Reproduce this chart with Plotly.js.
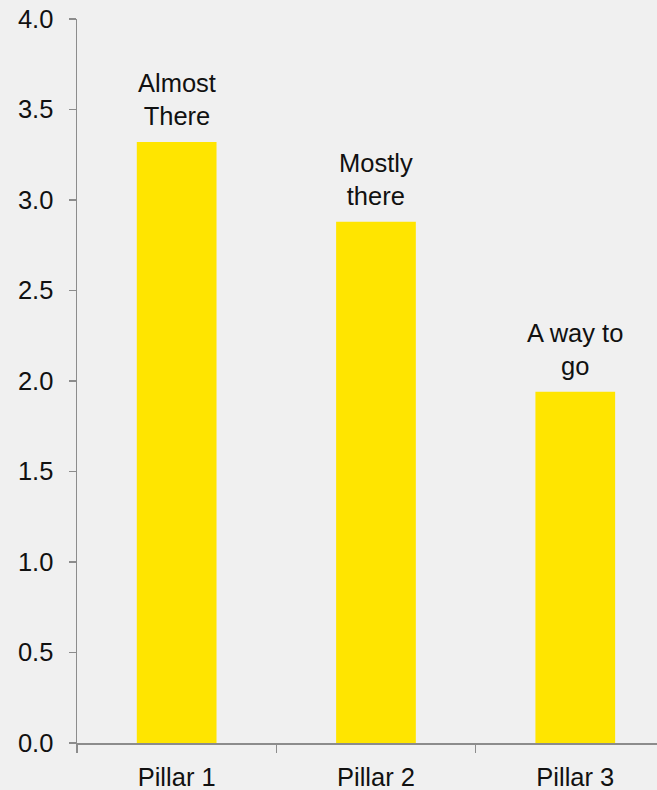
<!DOCTYPE html>
<html>
<head>
<meta charset="utf-8">
<script src="https://cdn.plot.ly/plotly-3.0.1.min.js"></script>
<style>
  html, body { margin: 0; padding: 0; background: #f0f0f0; overflow: hidden; }
  #chart { width: 657px; height: 790px; }
</style>
</head>
<body>
<div id="chart"></div>
<script>
// Pillar scores with a short status note above each bar
const pillars = ['Pillar 1', 'Pillar 2', 'Pillar 3'];
const scores = [3.32, 2.88, 1.94];
const notes = ['Almost<br>There', 'Mostly<br>there', 'A way to<br>go'];
const yTicks = [0, 0.5, 1, 1.5, 2, 2.5, 3, 3.5, 4];
const yTickLabels = ['0.0', '0.5', '1.0', '1.5', '2.0', '2.5', '3.0', '3.5', '4.0'];

const axisGray = '#8c8c8c';
const font = { family: '"Liberation Sans", Arial, sans-serif', size: 25.5, color: '#111111' };

const trace = {
  type: 'bar',
  x: pillars,
  y: scores,
  width: 0.4,
  marker: { color: '#ffe500' },
  hoverinfo: 'skip'
};

// Status notes sit just above the top of each bar
const noteAnnotations = pillars.map((p, i) => ({
  x: p,
  y: scores[i],
  xref: 'x',
  yref: 'y',
  text: notes[i],
  showarrow: false,
  xanchor: 'center',
  yanchor: 'bottom',
  yshift: 10,
  font: font
}));

const layout = {
  width: 657,
  height: 790,
  margin: { l: 77, r: 0, t: 19, b: 47 },
  paper_bgcolor: '#f0f0f0',
  plot_bgcolor: '#f0f0f0',
  font: font,
  showlegend: false,
  annotations: noteAnnotations,
  xaxis: {
    type: 'category',
    range: [-0.5, 2.41],
    showline: true,
    linecolor: axisGray,
    linewidth: 1.5,
    ticks: 'outside',
    tickson: 'boundaries',
    ticklen: 8,
    tickcolor: axisGray,
    tickwidth: 1.5,
    showgrid: false,
    zeroline: false,
    tickfont: font,
    ticklabelstandoff: 11
  },
  yaxis: {
    range: [0, 4],
    tickvals: yTicks,
    ticktext: yTickLabels,
    showline: true,
    linecolor: axisGray,
    linewidth: 1.5,
    ticks: 'outside',
    ticklen: 7,
    tickcolor: axisGray,
    tickwidth: 1.5,
    showgrid: false,
    zeroline: false,
    tickfont: font,
    ticklabelstandoff: 10
  }
};

Plotly.newPlot('chart', [trace], layout, { displayModeBar: false, staticPlot: true });
</script>
</body>
</html>
